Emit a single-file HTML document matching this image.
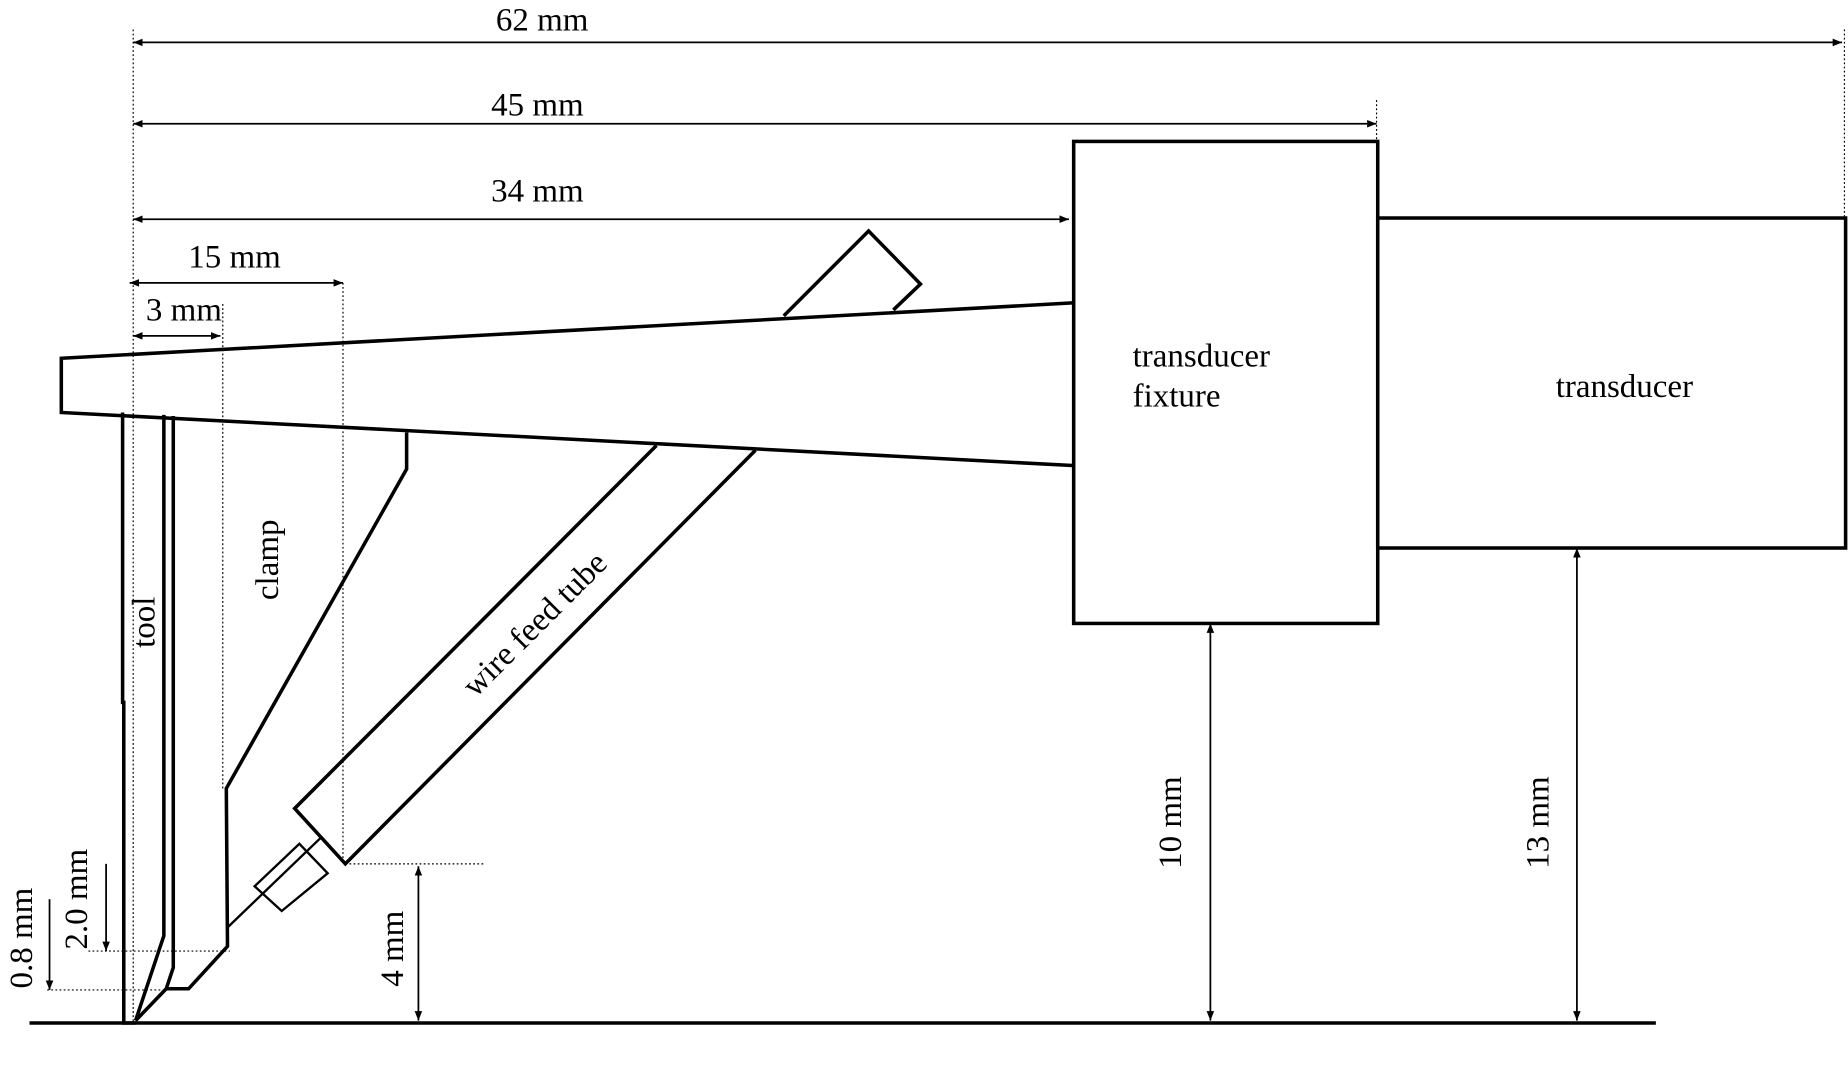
<!DOCTYPE html>
<html><head><meta charset="utf-8"><style>
html,body{margin:0;padding:0;background:#fff;}
svg{display:block;}
text{font-family:"Liberation Serif",serif;fill:#000;}
</style></head><body>
<svg width="1848" height="1078" viewBox="0 0 1568 914.7" xmlns="http://www.w3.org/2000/svg">
<defs>
<marker id="a" viewBox="0 0 10 10" refX="10" refY="5" markerWidth="8" markerHeight="8" markerUnits="userSpaceOnUse" orient="auto-start-reverse">
<path d="M0,1 L10,5 L0,9 z" fill="#000"/></marker>
</defs>
<g fill="none" stroke="#000">
<g stroke-width="1" stroke-dasharray="1.5,2">
<line x1="113" y1="25" x2="113" y2="868"/>
<line x1="1168" y1="85" x2="1168" y2="120"/>
<line x1="1565" y1="25" x2="1565" y2="185"/>
<line x1="291" y1="240" x2="291" y2="733"/>
<line x1="189" y1="258" x2="189" y2="670"/>
<line x1="293" y1="733" x2="410" y2="733"/>
<line x1="75" y1="807" x2="195" y2="807"/>
<line x1="40" y1="840" x2="142" y2="840"/>
</g>
<g stroke-width="1.5">
<line x1="113" y1="36" x2="1563" y2="36" marker-start="url(#a)" marker-end="url(#a)"/>
<line x1="113" y1="105" x2="1168" y2="105" marker-start="url(#a)" marker-end="url(#a)"/>
<line x1="113" y1="186" x2="907" y2="186" marker-start="url(#a)" marker-end="url(#a)"/>
<line x1="110" y1="240" x2="291" y2="240" marker-start="url(#a)" marker-end="url(#a)"/>
<line x1="113" y1="285" x2="187" y2="285" marker-start="url(#a)" marker-end="url(#a)"/>
<line x1="355" y1="735" x2="355" y2="866" marker-start="url(#a)" marker-end="url(#a)"/>
<line x1="1027" y1="529" x2="1027" y2="866" marker-start="url(#a)" marker-end="url(#a)"/>
<line x1="1338" y1="465" x2="1338" y2="866" marker-start="url(#a)" marker-end="url(#a)"/>
<line x1="90" y1="733" x2="90" y2="807" marker-end="url(#a)"/>
<line x1="42" y1="763" x2="42" y2="840" marker-end="url(#a)"/>
</g>
<g stroke-width="3" stroke-linejoin="miter">
<polyline points="910,257 52,304 52,350 910,395"/>
<rect x="911" y="120" width="258" height="409"/>
<rect x="1169" y="185" width="397" height="280"/>
<line x1="25" y1="868" x2="1405" y2="868"/>
<polyline points="104,350 104,596 105,596 105,868 115,868"/>
<polyline points="139,352 139,794 115,866"/>
<polyline points="147,353 147,821 141,839 115,866"/>
<polyline points="141,839 160,839 193,803 192,669 345,398 345,367"/>
<polyline points="557,378 250,686 293,733 641,382"/>
<polyline points="665,268 737,196 781,241 758,263"/>
</g>
<g stroke-width="2">
<line x1="193" y1="787" x2="272" y2="711"/>
<polygon points="216,752 254,716 278,741 239,773"/>
</g>
</g>
<g font-size="28">
<text x="460" y="26" text-anchor="middle">62 mm</text>
<text x="456" y="98" text-anchor="middle">45 mm</text>
<text x="456" y="171" text-anchor="middle">34 mm</text>
<text x="199" y="227" text-anchor="middle">15 mm</text>
<text x="156" y="272" text-anchor="middle">3 mm</text>
<text x="961" y="311">transducer</text>
<text x="961" y="345">fixture</text>
<text x="1320" y="337">transducer</text>
<text transform="translate(236,475) rotate(-90)" text-anchor="middle">clamp</text>
<text transform="translate(131,528) rotate(-90)" text-anchor="middle">tool</text>
<text transform="translate(460,536) rotate(-45)" text-anchor="middle">wire feed tube</text>
<text transform="translate(342,805) rotate(-90)" text-anchor="middle">4 mm</text>
<text transform="translate(74,763) rotate(-90)" text-anchor="middle">2.0 mm</text>
<text transform="translate(27,796) rotate(-90)" text-anchor="middle">0.8 mm</text>
<text transform="translate(1002,698) rotate(-90)" text-anchor="middle">10 mm</text>
<text transform="translate(1314,698) rotate(-90)" text-anchor="middle">13 mm</text>
</g>
</svg>
</body></html>
